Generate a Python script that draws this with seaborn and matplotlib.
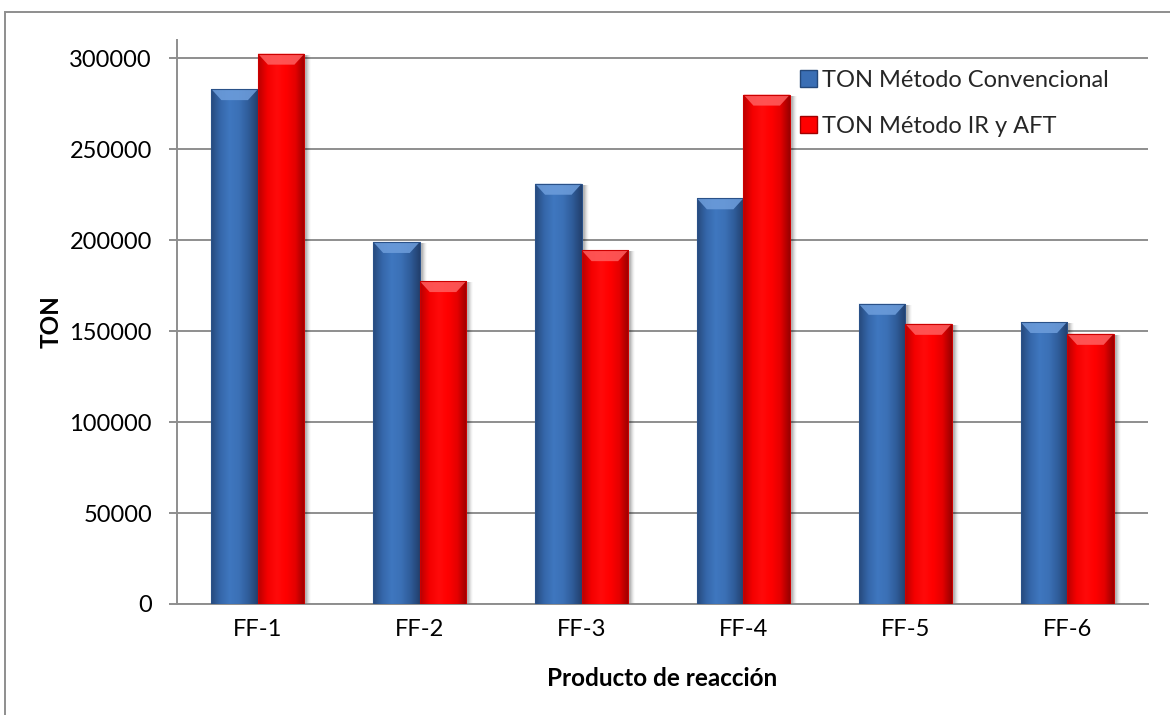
import numpy as np
import pandas as pd
import matplotlib
matplotlib.use("Agg")
import matplotlib.pyplot as plt
import seaborn as sns
from matplotlib.patches import Rectangle, Polygon, Patch
from matplotlib.colors import LinearSegmentedColormap

# ---- data ----
categories = ["FF-1", "FF-2", "FF-3", "FF-4", "FF-5", "FF-6"]
series_names = ["TON Método Convencional", "TON Método IR y AFT"]
ton_convencional = [283000, 199000, 231000, 223000, 165000, 155000]
ton_ir_aft = [302500, 177500, 194500, 280000, 154000, 148500]
y_ticks = [0, 50000, 100000, 150000, 200000, 250000, 300000]

df = pd.DataFrame({
    "Producto": categories * 2,
    "Serie": [series_names[0]] * len(categories) + [series_names[1]] * len(categories),
    "TON": ton_convencional + ton_ir_aft,
})

BLUE = "#3A6EB4"
RED = "#FF0000"
GRID = "#8E8E8E"
FS = 17

sns.set_theme(style="white")
plt.rcParams["font.family"] = ["Lato", "DejaVu Sans"]

W, H = 1170, 715
fig = plt.figure(figsize=(W / 100, H / 100), dpi=100)
ax = fig.add_axes([177 / W, (H - 604) / H, 971 / W, 564 / H])

sns.barplot(data=df, x="Producto", y="TON", hue="Serie", order=categories,
            hue_order=series_names, palette=[BLUE, RED], width=0.575,
            dodge=True, saturation=1.0, ax=ax, zorder=3, legend=False,
            edgecolor="none", linewidth=0)

ax.set_ylim(0, 310000)
ax.set_xlim(-0.5, len(categories) - 0.5)
ax.set_yticks(y_ticks)
ax.set_yticklabels([str(v) for v in y_ticks])

# horizontal gradient colour maps for a rounded look
cmaps = {
    BLUE: LinearSegmentedColormap.from_list(
        "b", ["#26497C", "#3567AA", "#3F77BF", "#3B70B6", "#2F5C99", "#223F6C"]),
    RED: LinearSegmentedColormap.from_list(
        "r", ["#B80000", "#F40000", "#FF0A0A", "#FF0000", "#E40000", "#980000"]),
}
bevel_top = {BLUE: "#6E9EDC", RED: "#FF6060"}
bevel_side = {BLUE: "#2A5188", RED: "#CC0000"}

grad = np.linspace(0, 1, 256).reshape(1, -1)
fig.canvas.draw()
to_px = ax.transData
inv = ax.transData.inverted()

bars = [p for p in ax.patches if isinstance(p, Rectangle) and p.get_height() > 0]
for p in bars:
    x, w, h = p.get_x(), p.get_width(), p.get_height()
    fc = matplotlib.colors.to_hex(p.get_facecolor())
    key = BLUE if fc.lower() == BLUE.lower() else RED
    # soft shadow to the right/bottom
    for k, a in zip(range(1, 6), [0.10, 0.08, 0.06, 0.04, 0.02]):
        x0p, y0p = to_px.transform((x, 0))
        x1p, y1p = to_px.transform((x + w, h))
        sx0, sy0 = inv.transform((x0p + 2 + k, y0p - k))
        sx1, sy1 = inv.transform((x1p + 2 + k, y1p - 1))
        ax.add_patch(Rectangle((sx0, sy0), sx1 - sx0, sy1 - sy0,
                               facecolor="black", alpha=a, lw=0, zorder=2))
    im = ax.imshow(grad, extent=[x, x + w, 0, h], aspect="auto",
                   cmap=cmaps[key], zorder=4, interpolation="bilinear")
    im.set_clip_path(p)
    # top bevel
    tx0, ty = to_px.transform((x, h))
    tx1, _ = to_px.transform((x + w, h))
    d = min(10, (tx1 - tx0) * 0.22)
    pts_px = [(tx0, ty), (tx1, ty), (tx1 - d, ty - 11), (tx0 + d, ty - 11)]
    pts = inv.transform(pts_px)
    ax.add_patch(Polygon(pts, closed=True, facecolor=bevel_top[key],
                         edgecolor="none", zorder=5, alpha=0.85))
    ax.add_patch(Rectangle((x, 0), w, h, facecolor="none",
                           edgecolor=bevel_side[key], lw=0.8, zorder=6))

ax.set_ylim(0, 310000)
ax.set_xlim(-0.5, len(categories) - 0.5)

# grid and axes styling
ax.yaxis.grid(True, color=GRID, lw=1.4, zorder=0)
ax.set_axisbelow(True)
for side in ["top", "right"]:
    ax.spines[side].set_visible(False)
for side in ["left", "bottom"]:
    ax.spines[side].set_color(GRID)
    ax.spines[side].set_linewidth(1.4)
ax.tick_params(axis="y", which="major", length=6, width=1.4, color=GRID,
               direction="out", left=True, pad=12, labelsize=FS, labelcolor="black")
ax.tick_params(axis="x", length=0, pad=11, labelsize=FS, labelcolor="black")

ax.set_xlabel("Producto de reacción", fontsize=17.5, fontweight="bold", color="black")
ax.set_ylabel("TON", fontsize=17.5, fontweight="bold", color="black")
ax.xaxis.set_label_coords(0.5, -0.112)
ax.yaxis.set_label_coords(-0.118, 0.5)

handles = [Patch(facecolor=BLUE, edgecolor="#24487A", lw=1.0),
           Patch(facecolor=RED, edgecolor="#A00000", lw=1.0)]
ax.legend(handles, series_names, loc="upper left",
          bbox_to_anchor=(800 / W, 1 - 70 / H), bbox_transform=fig.transFigure,
          frameon=False, fontsize=FS, handlelength=0.72, handleheight=0.72,
          handletextpad=0.2, labelspacing=1.05, borderpad=0, borderaxespad=0)

# outer chart frame
fig.patches.append(Rectangle((5 / W, -0.2), 2, 1.2 - 12 / H,
                             transform=fig.transFigure, fill=False,
                             edgecolor=GRID, lw=1.4))

fig.savefig("out.png", dpi=100, facecolor="white")
